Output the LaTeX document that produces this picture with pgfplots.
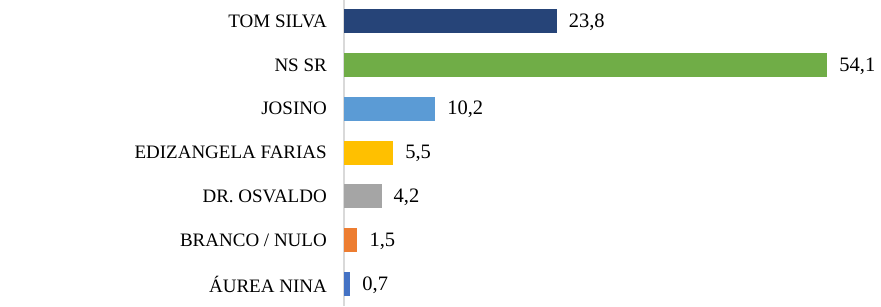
\documentclass[border=0pt]{standalone}
\usepackage{pgfplots}
\pgfplotsset{compat=1.18}
\usepackage{fontspec}
\setmainfont{Liberation Serif}
\definecolor{c1}{HTML}{264478}
\definecolor{c2}{HTML}{70AD47}
\definecolor{c3}{HTML}{5B9BD5}
\definecolor{c4}{HTML}{FFC000}
\definecolor{c5}{HTML}{A5A5A5}
\definecolor{c6}{HTML}{ED7D31}
\definecolor{c7}{HTML}{4472C4}
\begin{document}
\begin{tikzpicture}
\path[use as bounding box] (-344pt,0) rectangle (537pt,306pt);
\begin{axis}[
  at={(0,0)}, anchor=south west,
  scale only axis, width=536pt, height=306pt,
  xmin=0, xmax=60, ymin=-0.5, ymax=6.48,
  xbar, bar width=24pt, bar shift=0pt,
  axis x line=none, axis y line=left,
  y axis line style={draw=black!15, line width=1.2pt, -},
  ytick={0,1,2,3,4,5,6},
  yticklabels={ÁUREA NINA, BRANCO / NULO, DR. OSVALDO, EDIZANGELA FARIAS, JOSINO, NS SR, TOM SILVA},
  major tick length=0pt,
  yticklabel style={font=\fontsize{19}{21}\selectfont, inner sep=0pt, xshift=-17pt, text=black},
  nodes near coords,
  every node near coord/.append style={font=\fontsize{20.5}{22}\selectfont, anchor=west, inner sep=0pt, xshift=12pt, yshift=-1pt, text=black},
  /pgf/number format/.cd, use comma, fixed, fixed zerofill, precision=1,
  /pgf/number format/assume math mode=true,
]
\addplot[fill=c1, draw=none] coordinates {(23.8,6)};
\addplot[fill=c2, draw=none] coordinates {(54.1,5)};
\addplot[fill=c3, draw=none] coordinates {(10.2,4)};
\addplot[fill=c4, draw=none] coordinates {(5.5,3)};
\addplot[fill=c5, draw=none] coordinates {(4.2,2)};
\addplot[fill=c6, draw=none] coordinates {(1.5,1)};
\addplot[fill=c7, draw=none] coordinates {(0.7,0)};
\end{axis}
\end{tikzpicture}
\end{document}
